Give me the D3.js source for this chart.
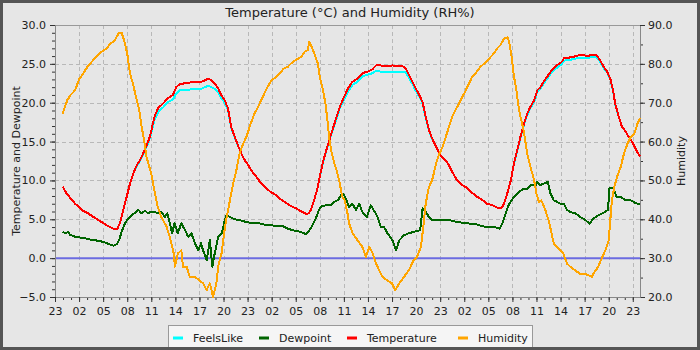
<!DOCTYPE html>
<html>
<head>
<meta charset="utf-8">
<script src="https://cdn.jsdelivr.net/npm/d3@7"></script>
<style>
  body { margin: 0; background: #ffffff; }
  svg { display: block; }
  text { font-family: "DejaVu Sans", sans-serif; fill: #222; }
</style>
</head>
<body>
<svg id="chart" width="700" height="350"></svg>
<script>
// Readings are timed in hours elapsed since 23:00 on the evening the log starts.
const tempTimes = [0.96,1.45,1.95,2.5,3.0,3.5,4.15,4.78,5.4,6.02,
  6.65,7.27,7.77,8.1,8.5,8.94,9.35,9.76,10.2,10.6,
  11.0,11.4,11.75,12.0,12.4,12.85,13.47,14.1,14.7,15.1,
  15.55,16.2,16.8,17.6,18.25,18.7,19.1,19.5,19.9,20.35,
  20.7,21.15,21.55,21.95,22.4,22.8,23.2,23.65,24.06,24.45,
  25.06,25.7,26.3,26.9,27.55,28.2,28.8,29.4,30.05,30.7,
  31.3,31.6,31.9,32.3,32.65,33.0,33.45,33.87,34.3,34.7,
  35.1,35.5,35.95,36.5,37.07,37.7,38.3,38.95,39.55,40.0,
  40.6,41.25,42.05,42.7,43.3,43.7,44.1,44.55,44.96,45.4,
  45.8,46.2,46.6,47.0,47.5,47.9,48.3,48.9,49.5,50.1,
  50.75,51.4,52.0,52.6,53.25,53.85,54.5,55.1,55.65,55.95,
  56.35,56.8,57.2,57.6,58.0,58.45,58.85,59.25,59.7,60.1,
  60.5,60.9,61.3,61.9,62.55,63.2,63.4,64.0,64.6,65.25,
  65.9,66.5,66.7,67.45,67.9,68.4,68.8,69.2,69.55,69.8,
  70.25,70.65,71.1,71.5,71.9,72.35,72.75,72.9];

const temperature = [9.2,8.3,7.7,7.0,6.6,6.1,5.75,5.3,4.9,4.5,
  4.1,3.8,3.8,4.5,6.2,7.9,9.6,10.9,12.0,12.6,
  13.5,14.5,15.4,16.4,18.2,19.3,19.9,20.6,21.0,22.0,
  22.4,22.5,22.6,22.7,22.7,22.9,23.1,22.9,22.5,21.8,
  21.0,20.3,19.3,16.9,15.6,14.5,13.5,12.6,12.0,11.3,
  10.5,9.6,9.0,8.5,8.1,7.5,7.1,6.7,6.4,6.0,
  5.7,5.75,6.2,7.5,8.75,10.5,12.6,14.1,15.6,16.9,
  18.2,19.5,20.6,21.8,22.7,23.1,23.8,24.0,24.3,24.8,
  24.8,24.7,24.8,24.7,24.7,24.4,23.6,22.7,21.8,21.0,
  20.1,18.2,16.5,15.4,14.3,13.5,12.9,12.3,11.1,10.0,
  9.4,9.0,8.4,7.9,7.5,7.0,6.8,6.5,6.45,7.0,
  8.3,10.0,12.2,13.9,15.6,17.3,18.6,19.5,20.3,21.6,
  22.0,22.7,23.3,24.2,24.8,25.3,25.7,25.8,25.9,26.1,
  26.1,26.0,26.2,26.2,25.5,24.6,24.0,23.1,21.6,19.9,
  18.2,16.9,16.3,15.6,15.0,14.1,13.3,13.1];

// Feels-like shares the temperature timestamps
const feelsLike = [9.2,8.3,7.7,7.0,6.6,6.1,5.75,5.3,4.9,4.5,
  4.1,3.8,3.8,4.5,6.2,7.9,9.6,10.9,11.9,12.5,
  13.4,14.3,15.2,16.1,17.8,18.8,19.4,20.1,20.4,21.2,
  21.6,21.6,21.7,21.8,21.8,22.0,22.2,22.0,21.8,21.3,
  20.6,20.0,19.1,16.8,15.5,14.5,13.5,12.6,12.0,11.3,
  10.5,9.6,9.0,8.5,8.1,7.5,7.1,6.7,6.4,6.0,
  5.7,5.75,6.2,7.5,8.75,10.5,12.5,14.0,15.5,16.8,
  18.0,19.3,20.3,21.4,22.3,22.7,23.4,23.6,23.8,24.1,
  24.0,23.9,24.0,24.0,24.0,23.9,23.2,22.4,21.5,20.8,
  19.9,18.0,16.4,15.3,14.3,13.5,12.9,12.3,11.1,10.0,
  9.4,9.0,8.4,7.9,7.5,7.0,6.8,6.5,6.45,7.0,
  8.3,10.0,12.2,13.8,15.5,17.2,18.4,19.3,20.1,21.4,
  21.8,22.5,23.0,23.9,24.5,25.0,25.4,25.5,25.6,25.8,
  25.8,25.7,25.9,25.9,25.3,24.4,23.9,23.0,21.5,19.8,
  18.2,16.9,16.3,15.6,15.0,14.1,13.3,13.1];

const dewTimes = [0.96,1.3,1.66,1.87,2.5,3.1,3.74,4.36,4.99,5.6,
  6.23,6.86,7.27,7.7,7.98,8.3,8.73,9.14,9.55,9.98,
  10.4,10.8,11.2,11.63,12.0,12.4,12.85,13.25,13.7,14.0,
  14.3,14.6,14.9,15.3,15.75,16.2,16.6,17.0,17.45,17.85,
  18.2,18.45,18.9,19.3,19.6,19.9,20.35,20.8,21.15,21.35,
  21.8,22.4,23.05,23.65,24.3,25.28,25.9,26.7,27.55,28.4,
  29.0,29.6,30.3,30.9,31.3,31.7,32.1,32.5,32.9,33.2,
  33.8,34.4,34.8,35.25,35.66,35.95,36.1,36.4,36.65,37.07,
  37.5,37.9,38.3,38.86,39.35,39.85,40.2,40.6,41.0,41.43,
  42.05,42.5,42.9,43.5,44.1,44.76,45.5,45.8,46.2,46.6,
  47.0,47.6,48.3,49.1,49.9,50.75,51.6,52.4,53.25,54.1,
  54.9,55.4,55.75,56.15,56.6,57.2,57.8,58.45,58.85,59.25,
  59.9,60.1,60.5,60.9,61.4,61.75,62.15,62.55,62.96,63.4,
  63.8,64.2,64.85,65.45,66.1,66.6,67.1,67.7,68.4,68.9,
  69.1,69.6,69.95,70.45,71.1,71.7,72.35,72.9];

const dewpoint = [3.4,3.2,3.4,3.0,2.75,2.65,2.55,2.4,2.3,2.2,
  2.0,1.75,1.6,1.8,2.3,3.4,4.5,5.1,5.5,5.85,
  6.2,5.75,6.1,5.75,6.0,5.95,5.75,5.95,5.3,5.75,
  4.5,3.2,4.5,3.2,4.5,3.6,2.75,3.2,1.9,1.0,
  1.9,1.0,-0.25,2.3,-1.1,0.6,2.75,3.2,4.9,5.5,
  5.3,5.0,4.9,4.7,4.55,4.55,4.35,4.25,4.15,4.1,
  3.8,3.6,3.45,3.25,3.1,3.6,4.25,5.1,6.2,6.7,
  6.8,6.8,7.25,7.45,8.1,8.3,7.9,7.25,6.6,7.0,
  6.2,7.0,5.95,5.3,6.8,5.95,5.3,4.0,4.0,3.2,
  2.3,1.0,2.3,2.95,3.2,3.4,3.6,6.4,5.95,5.3,
  4.9,4.9,4.95,4.9,4.7,4.55,4.45,4.4,4.1,4.0,
  3.95,3.8,4.45,5.75,7.0,7.9,8.5,8.95,8.95,9.4,
  9.4,9.8,9.4,9.6,9.8,8.3,7.45,7.25,7.0,7.0,
  6.2,5.95,5.75,5.3,4.9,4.45,5.1,5.5,5.85,6.2,
  9.0,9.0,7.9,7.9,7.45,7.45,7.1,6.9];

const humTimes = [0.96,1.12,1.54,1.95,2.5,3.0,3.5,4.03,4.57,5.2,
  5.8,6.44,6.86,7.48,7.9,8.3,8.6,9.0,9.35,9.7,
  10.1,10.5,10.8,11.1,11.4,11.75,12.0,12.3,12.8,13.25,
  13.9,14.3,14.8,14.95,15.3,15.75,15.95,16.4,16.8,17.4,
  18.0,18.45,18.9,19.3,19.7,20.1,20.4,20.75,21.07,21.4,
  21.8,22.2,22.6,23.0,23.45,23.85,24.4,24.85,25.3,25.7,
  26.1,26.5,27.0,27.6,28.0,28.5,29.0,29.4,30.0,30.7,
  31.1,31.5,31.7,31.9,32.3,32.75,33.0,33.4,33.7,33.95,
  34.2,34.5,34.8,35.1,35.4,35.8,36.1,36.45,36.65,37.1,
  37.7,38.3,38.75,39.15,39.6,40.0,40.4,40.8,41.4,42.0,
  42.4,42.9,43.5,44.1,44.7,45.1,45.6,45.9,46.2,46.6,
  47.0,47.5,47.9,48.3,48.7,49.1,49.5,49.9,50.35,50.75,
  51.0,51.6,52.0,52.4,53.0,53.7,54.3,54.7,55.1,55.5,
  55.95,56.4,56.6,56.9,57.2,57.5,57.7,58.0,58.4,58.85,
  59.25,59.7,60.0,60.3,60.6,61.1,61.5,61.8,62.15,62.55,
  62.95,63.35,63.8,64.2,64.8,65.4,66.0,66.9,67.1,67.7,
  68.2,68.6,69.0,69.2,69.4,69.7,70.05,70.5,70.9,71.35,
  71.75,72.2,72.6,72.9];

const humidity = [67.1,68.3,70.7,72.0,73.2,76.0,77.5,79.2,80.5,82.0,
  83.1,84.0,85.1,86.1,87.8,88.0,86.1,82.7,77.5,75.0,
  71.5,68.1,63.8,60.4,56.1,53.5,51.8,48.3,43.2,40.6,
  38.1,35.5,31.2,27.8,31.2,32.0,27.8,27.8,25.2,25.2,
  24.3,23.5,21.8,23.5,20.0,23.5,28.6,31.2,36.4,40.6,
  44.9,49.2,52.6,56.9,59.5,61.2,64.7,67.2,68.9,70.7,
  72.4,74.1,75.8,76.7,77.5,78.8,79.2,80.1,81.0,81.8,
  83.1,83.5,85.7,84.8,82.7,80.1,76.7,73.2,69.8,65.5,
  60.4,56.9,54.4,52.6,50.1,45.8,44.9,41.5,38.9,36.4,
  34.6,32.9,30.3,32.9,31.2,28.6,26.9,25.2,24.3,23.5,
  21.8,23.5,25.2,26.9,29.5,30.3,32.9,38.1,44.1,48.3,
  50.1,54.4,56.9,58.6,61.2,63.8,66.4,68.1,69.8,71.5,
  72.4,75.0,76.7,77.5,79.2,80.5,81.8,82.7,84.0,84.8,
  86.5,86.8,85.7,81.8,76.7,73.2,69.8,66.4,62.9,56.9,
  53.5,50.1,46.6,44.5,44.9,42.4,39.8,37.2,33.8,32.9,
  32.1,31.2,28.6,27.8,26.9,26.0,26.0,25.2,26.0,27.8,
  30.3,32.1,34.6,39.8,44.9,48.3,51.0,53.5,56.9,59.5,
  61.2,62.1,64.7,66.0];

// Axis ticks
const tempTicks = [-5, 0, 5, 10, 15, 20, 25, 30];
const humTicks = [20, 30, 40, 50, 60, 70, 80, 90];
const spanHours = 72.9;

const seriesNames = ["FeelsLike", "Dewpoint", "Temperature", "Humidity"];
const seriesColors = ["#00ffff", "#006400", "#ff0000", "#ffa500"];

const START = Date.UTC(2024, 4, 31, 23, 0);
const toDate = h => new Date(START + h * 3600e3);

const svg = d3.select("#chart");
const W = 700, H = 350;
const m = { left: 55, right: 640, top: 25, bottom: 297 };

// frame
svg.append("rect").attr("x", 1.5).attr("y", 1.5).attr("width", W - 3).attr("height", H - 3)
  .attr("fill", "#e6e6e6").attr("stroke", "#555").attr("stroke-width", 3);

const x = d3.scaleUtc().domain([toDate(0), toDate(spanHours)]).range([m.left, m.right]);
const yT = d3.scaleLinear().domain([-5, 30]).range([m.bottom, m.top]);
const yH = d3.scaleLinear().domain([20, 90]).range([m.bottom, m.top]);

const majorHours = d3.utcHour.range(toDate(0), toDate(spanHours), 3);
const minorHours = d3.utcHour.range(toDate(0), toDate(spanHours));

// grid
const grid = svg.append("g").attr("stroke", "#b8b8b8").attr("stroke-dasharray", "4,3").attr("stroke-width", 1);
grid.selectAll(".vg").data(majorHours.slice(1)).join("line")
  .attr("x1", d => Math.round(x(d)) + 0.5).attr("x2", d => Math.round(x(d)) + 0.5)
  .attr("y1", m.top).attr("y2", m.bottom);
grid.selectAll(".hg").data(tempTicks.filter(v => v > -5 && v < 30)).join("line")
  .attr("x1", m.left).attr("x2", m.right)
  .attr("y1", d => Math.round(yT(d)) + 0.5).attr("y2", d => Math.round(yT(d)) + 0.5);

// plot top edge
svg.append("line").attr("x1", m.left).attr("x2", m.right).attr("y1", m.top + 0.5).attr("y2", m.top + 0.5)
  .attr("stroke", "#999");

// zero line
svg.append("line").attr("x1", m.left).attr("x2", m.right)
  .attr("y1", yT(0)).attr("y2", yT(0))
  .attr("stroke", "#6b6be0").attr("stroke-width", 2);

// axes
function styleAxis(g) {
  g.select(".domain").attr("stroke", "#888");
  g.selectAll(".tick line").attr("stroke", "#333");
  g.selectAll("text").attr("font-size", 11).attr("font-family", "DejaVu Sans, sans-serif").attr("fill", "#222");
}
svg.append("g").attr("transform", `translate(${m.left},0)`)
  .call(d3.axisLeft(yT).tickValues(d3.range(-5, 31, 1)).tickFormat("").tickSize(3).tickSizeOuter(0)).call(styleAxis);
svg.append("g").attr("transform", `translate(${m.left},0)`)
  .call(d3.axisLeft(yT).tickValues(tempTicks).tickFormat(d3.format(".1f")).tickSize(5).tickPadding(4).tickSizeOuter(0)).call(styleAxis);
svg.append("g").attr("transform", `translate(${m.right},0)`)
  .call(d3.axisRight(yH).tickValues(d3.range(20, 91, 5)).tickFormat("").tickSize(3).tickSizeOuter(0)).call(styleAxis);
svg.append("g").attr("transform", `translate(${m.right},0)`)
  .call(d3.axisRight(yH).tickValues(humTicks).tickFormat(d3.format(".1f")).tickSize(5).tickPadding(3).tickSizeOuter(0)).call(styleAxis);
svg.append("g").attr("transform", `translate(0,${m.bottom})`)
  .call(d3.axisBottom(x).tickValues(minorHours).tickFormat("").tickSize(3).tickSizeOuter(0)).call(styleAxis);
svg.append("g").attr("transform", `translate(0,${m.bottom})`)
  .call(d3.axisBottom(x).tickValues(majorHours).tickFormat(d3.utcFormat("%H")).tickSize(5).tickPadding(5).tickSizeOuter(0)).call(styleAxis);

// series
const series = [
  { times: tempTimes, values: feelsLike, scale: yT },
  { times: dewTimes, values: dewpoint, scale: yT },
  { times: tempTimes, values: temperature, scale: yT },
  { times: humTimes, values: humidity, scale: yH }
];
series.forEach((s, i) => {
  const pts = s.times.map((t, j) => [toDate(t), s.values[j]]);
  const line = d3.line().x(d => x(d[0])).y(d => s.scale(d[1]));
  svg.append("path").datum(pts).attr("d", line)
    .attr("fill", "none").attr("stroke", seriesColors[i]).attr("stroke-width", 2)
    .attr("stroke-linejoin", "round").attr("shape-rendering", "crispEdges");
});

// titles
svg.append("text").attr("x", 350).attr("y", 16.5).attr("text-anchor", "middle")
  .attr("font-size", 13).text("Temperature (°C) and Humidity (RH%)");
svg.append("text").attr("transform", `translate(20,${(m.top + m.bottom) / 2}) rotate(-90)`)
  .attr("text-anchor", "middle").attr("font-size", 11).text("Temperature and Dewpoint");
svg.append("text").attr("transform", `translate(685,${(m.top + m.bottom) / 2}) rotate(-90)`)
  .attr("text-anchor", "middle").attr("font-size", 11).text("Humidity");

// legend
svg.append("rect").attr("x", 168.5).attr("y", 325.5).attr("width", 364).attr("height", 30)
  .attr("fill", "#f5f5f5").attr("stroke", "#999");
const legendX = [173, 259, 347, 458];
seriesNames.forEach((name, i) => {
  svg.append("line").attr("x1", legendX[i]).attr("x2", legendX[i] + 10)
    .attr("y1", 338).attr("y2", 338).attr("stroke", seriesColors[i]).attr("stroke-width", 3);
  svg.append("text").attr("x", legendX[i] + 20).attr("y", 341.5).attr("font-size", 11).text(name);
});
// redraw the frame edge over the legend box
svg.append("rect").attr("x", 1.5).attr("y", 1.5).attr("width", W - 3).attr("height", H - 3)
  .attr("fill", "none").attr("stroke", "#555").attr("stroke-width", 3);
</script>
</body>
</html>
